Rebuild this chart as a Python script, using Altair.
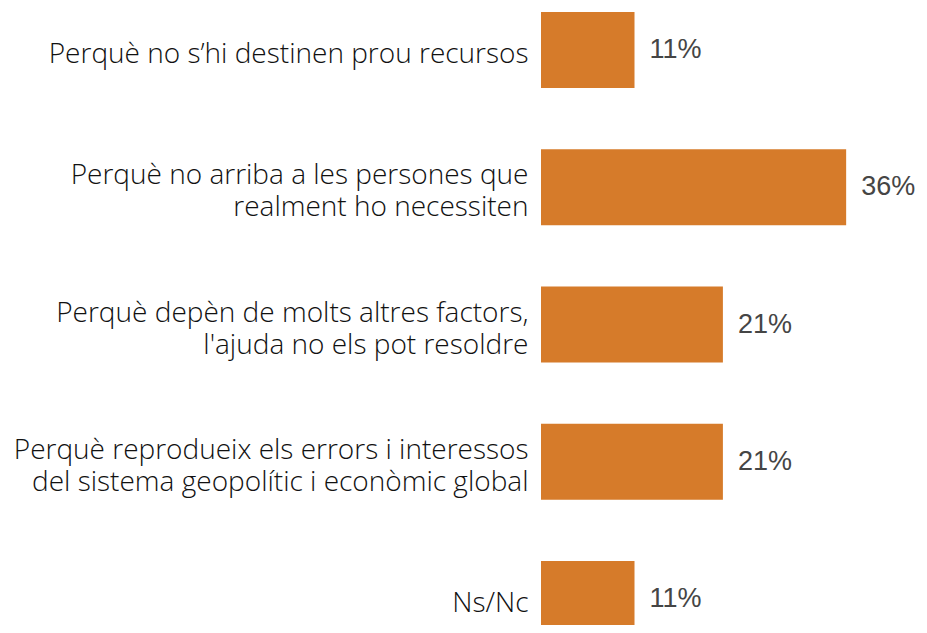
import altair as alt
import pandas as pd

categories = [
    "Perquè no s’hi destinen prou recursos",
    "Perquè no arriba a les persones que|realment ho necessiten",
    "Perquè depèn de molts altres factors,|l'ajuda no els pot resoldre",
    "Perquè reprodueix els errors i interessos|del sistema geopolític i econòmic global",
    "Ns/Nc",
]
values = [11.0, 35.9, 21.4, 21.4, 11.0]
labels = ["11%", "36%", "21%", "21%", "11%"]

df = pd.DataFrame({"cat": categories, "val": values, "lab": labels})

y = alt.Y(
    "cat:N",
    sort=categories,
    title=None,
    scale=alt.Scale(paddingInner=0.446, paddingOuter=0, range=[0, 625]),
    axis=alt.Axis(
        domain=False,
        ticks=False,
        labelPadding=13,
        labelFont="Open Sans",
        labelFontSize=28,
        labelFontWeight=300,
        labelColor="#111111",
        labelLimit=0,
        labelLineHeight=32,
        labelOffset={"condition": {"test": "indexof(datum.value, '|') >= 0", "value": -11}, "value": 5},
        labelExpr="split(datum.label, '|')",
    ),
)
x = alt.X("val:Q", scale=alt.Scale(domain=[0, 40], nice=False), axis=None)

bars = alt.Chart(df).mark_bar(color="#D67B2A", clip=True).encode(x=x, y=y)
text = alt.Chart(df).mark_text(
    align="left", baseline="middle", dx=15, font="Liberation Sans", fontSize=27,
    fontWeight=300, color="#454545"
).encode(x=x, y=y, text="lab:N")

chart = (
    alt.layer(bars, text)
    .properties(
        width=340,
        height=613,
        autosize=alt.AutoSizeParams(type="none"),
        padding={"left": 533, "top": 4, "right": 38, "bottom": 0},
    )
    .configure_view(stroke=None)
)

chart.save("out.html", embed_options={"renderer": "svg", "actions": False})
